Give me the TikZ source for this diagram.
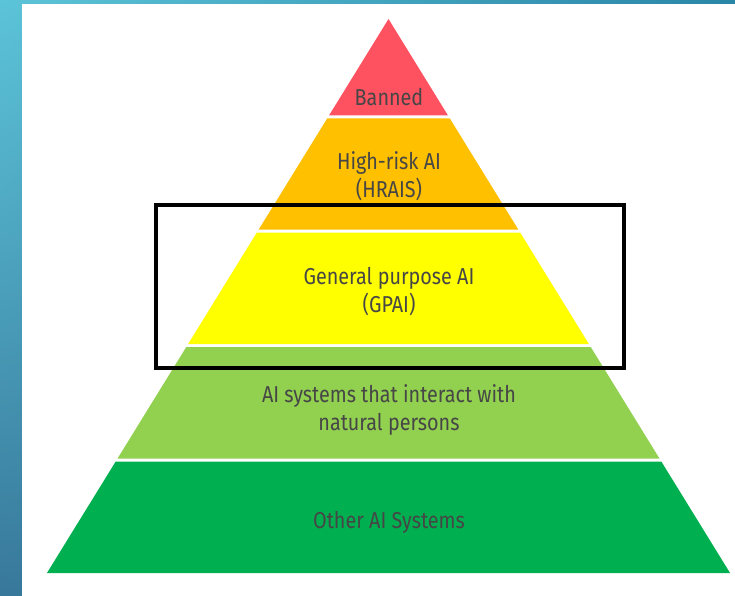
\documentclass[tikz,border=0pt]{standalone}
\usepackage{fontspec}
\setmainfont{Fira Sans}[FakeStretch=0.86]
\usetikzlibrary{shadings}
\definecolor{bannedred}{HTML}{FF5260}
\definecolor{riskorange}{HTML}{FFC000}
\definecolor{gpaiyellow}{HTML}{FFFF00}
\definecolor{interactgreen}{HTML}{92D050}
\definecolor{othergreen}{HTML}{00B050}
\definecolor{labelgray}{HTML}{464646}
\definecolor{bgcyan}{HTML}{5CC4D8}
\definecolor{bgteal}{HTML}{2A86A6}
\definecolor{bgdeep}{HTML}{38789A}
% apex and side slope of the pyramid
\def\apx{388.5}
\def\apy{19}
\def\slp{0.6165}
\def\band(#1:#2)[#3]{\fill[#3] ({\apx-\slp*(#1-\apy)}, #1) -- ({\apx+\slp*(#1-\apy)}, #1) -- ({\apx+\slp*(#2-\apy)}, #2) -- ({\apx-\slp*(#2-\apy)}, #2) -- cycle;}

\begin{document}
\begin{tikzpicture}[x=1pt, y=-1pt,
	tierlabel/.style={align=center, text=labelgray, font=\fontsize{23}{28}\selectfont}]
			%%%%% START %%%%%
			\useasboundingbox (0, 0) rectangle (735, 596);
			
			\shade[upper left=bgcyan, upper right=bgteal, lower left=bgdeep, lower right=bgteal] (0, 0) rectangle (735, 596);
			\fill[white] (22, 4) rectangle (735, 596);
			
			\band(19:115.5)[bannedred]
			\band(118.5:229.5)[riskorange]
			\band(232.5:344)[gpaiyellow]
			\band(347:458.5)[interactgreen]
			\band(461.5:573)[othergreen]
			
			\node[tierlabel] (banned) at (389, 97) {Banned};
			\node[tierlabel] (hrais) at (389, 176.5) {High-risk AI\\(HRAIS)};
			\node[tierlabel] (gpai) at (389, 292) {General purpose AI\\(GPAI)};
			\node[tierlabel] (interact) at (389, 409.5) {AI systems that interact with\\natural persons};
			\node[tierlabel] (other) at (389, 522) {Other AI Systems};
			
			\draw[line width=4pt] (156.3, 205) rectangle (623.5, 367.5);
			%%%%% END %%%%%
		\end{tikzpicture}
\end{document}
